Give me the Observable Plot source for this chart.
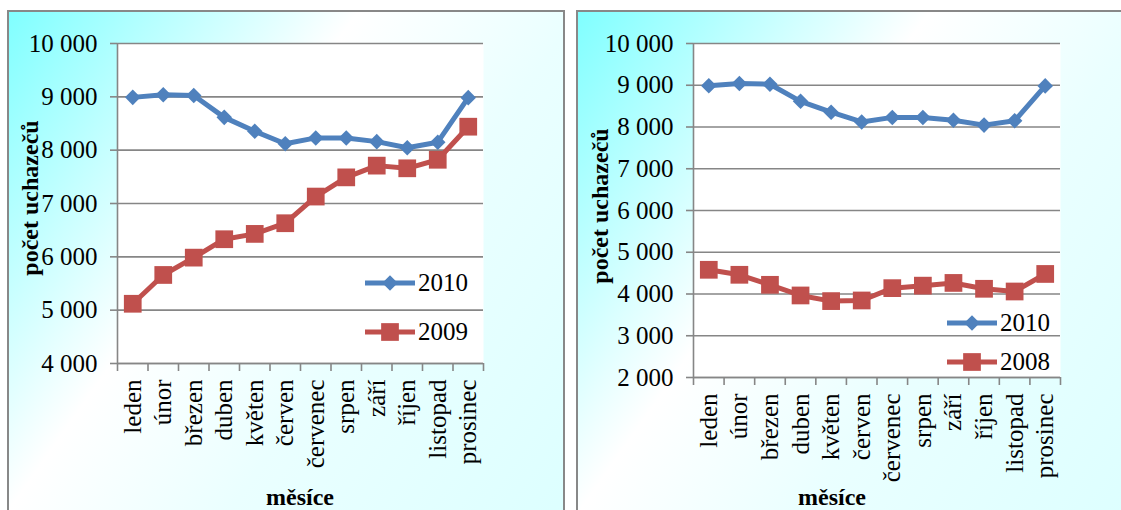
<!DOCTYPE html>
<html><head><meta charset="utf-8">
<script src="https://cdn.jsdelivr.net/npm/d3@7"></script>
<script src="https://cdn.jsdelivr.net/npm/@observablehq/plot@0.6"></script>
<style>
body{margin:0;width:1121px;height:510px;overflow:hidden;background:#fff;position:relative;font-family:'Liberation Serif';}
.panel{position:absolute;border:2px solid #888;background:linear-gradient(125deg,#80ffff 0%,#ffffff 38%,#eaffff 62%,#dcffff 100%);overflow:hidden}
.panel svg{position:absolute;left:0;top:0}
#overlay{position:absolute;left:0;top:0;pointer-events:none}
#overlay text, .panel svg text{font-family:'Liberation Serif'}
.t{position:absolute;font-family:'Liberation Serif';white-space:nowrap;color:#000}
.ttl{font-weight:bold;font-size:24px;line-height:30px;width:300px;text-align:center}
.leg{font-size:25px;line-height:30px}
</style></head><body>
<pre id="probe" style="position:absolute;left:0;top:0;margin:0;font-family:'DejaVu Sans Mono';font-size:13px">&#8203;</pre>
<div id="p1" class="panel" style="left:7px;top:10px;width:554px;height:520px"></div>
<div id="p2" class="panel" style="left:576px;top:10px;width:560px;height:520px"></div>
<svg id="overlay" width="1121" height="510"></svg>
<script>
const months = ["leden","únor","březen","duben","květen","červen","červenec","srpen","září","říjen","listopad","prosinec"];
const values2010 = [8990,9040,9025,8615,8355,8120,8230,8230,8160,8045,8150,8985];
const values2009 = [5120,5660,5985,6330,6430,6630,7130,7490,7710,7660,7820,8440];
const values2008 = [4580,4460,4220,3965,3830,3845,4140,4200,4265,4125,4060,4480];
const yTicksLeft = [4000,5000,6000,7000,8000,9000,10000];
const yTicksRight = [2000,3000,4000,5000,6000,7000,8000,9000,10000];
const yTitle = "počet uchazečů";
const xTitle = "měsíce";

const FONT = "Liberation Serif";
const GRAY = "#868686";
const BLUE = "#4F81BD";
const RED = "#C0504D";
const fmt = d => d3.format(",")(d).replace(/,/g, "\u00a0");

function chart(series, yTicks, opts) {
  const rows = series.flatMap(s => s.values.map((v, i) => ({pos: i + 0.5, v, name: s.name})));
  const boundaries = d3.range(13);
  const centers = d3.range(12).map(i => i + 0.5);
  const marks = [
    Plot.frame({fill: "white", stroke: "none"}),
    Plot.gridY(yTicks, {stroke: GRAY, strokeOpacity: 1, strokeWidth: 1.6}),
    Plot.axisY(yTicks, {tickSize: 7, tickPadding: 13, stroke: GRAY, strokeWidth: 1.6, tickFormat: fmt, label: null}),
    Plot.axisX(boundaries, {tickSize: 8, tickPadding: 0, stroke: GRAY, strokeWidth: 1.6, tickFormat: () => "", label: null}),
    Plot.axisX(centers, {tickSize: 0, tickPadding: 16, tickRotate: -90, tickFormat: d => months[Math.floor(d)], label: null}),
    Plot.ruleX([0], {stroke: GRAY, strokeWidth: 1.6}),
    Plot.ruleY([yTicks[0]], {stroke: GRAY, strokeWidth: 1.6})
  ];
  for (const s of series) {
    const data = rows.filter(d => d.name === s.name);
    marks.push(Plot.line(data, {x: "pos", y: "v", stroke: s.color, strokeWidth: 5, strokeLinejoin: "round"}));
    marks.push(Plot.dot(data, {x: "pos", y: "v", symbol: s.symbol, r: s.r, fill: s.color, stroke: "none"}));
  }
  return Plot.plot({
    ...opts,
    style: {fontFamily: FONT, fontSize: "25px", color: "black", background: "transparent", overflow: "visible"},
    x: {domain: [0, 12], axis: null},
    y: {domain: [yTicks[0], yTicks[yTicks.length - 1]], axis: null},
    marks
  });
}

const s2010 = {name: "2010", values: values2010, color: BLUE, symbol: "diamond2", r: 7};
const s2009 = {name: "2009", values: values2009, color: RED, symbol: "square", r: 10};
const s2008 = {name: "2008", values: values2008, color: RED, symbol: "square", r: 10};

const c1 = chart([s2010, s2009], yTicksLeft,
  {width: 554, height: 498, marginLeft: 108, marginRight: 80, marginTop: 31, marginBottom: 147});
const c2 = chart([s2010, s2008], yTicksRight,
  {width: 543, height: 498, marginLeft: 115, marginRight: 61, marginTop: 31, marginBottom: 133});
document.getElementById("p1").appendChild(c1);
document.getElementById("p2").appendChild(c2);

function title(cx, cy, rot, txt) {
  const d = document.createElement("div");
  d.className = "t ttl";
  d.textContent = txt;
  d.style.left = (cx - 150) + "px";
  d.style.top = (cy - 15) + "px";
  if (rot) d.style.transform = `rotate(${rot}deg)`;
  document.body.appendChild(d);
}
title(30, 198, -90, yTitle);
title(600, 206, -90, yTitle);
title(300, 497, 0, xTitle);
title(832, 497, 0, xTitle);

const ov = d3.select("#overlay");
function legend(x, entries) {
  for (const [y, s] of entries) {
    const g = ov.append("g");
    g.append("line").attr("x1", x).attr("x2", x + 50).attr("y1", y).attr("y2", y)
      .attr("stroke", s.color).attr("stroke-width", 5);
    const sym = s.symbol === "square" ? d3.symbolSquare : d3.symbolDiamond2;
    g.append("path").attr("transform", `translate(${x + 25},${y})`)
      .attr("d", d3.symbol(sym, Math.PI * s.r * s.r)()).attr("fill", s.color);
    const d = document.createElement("div");
    d.className = "t leg";
    d.textContent = s.name;
    d.style.left = (x + 53) + "px";
    d.style.top = (y - 15) + "px";
    document.body.appendChild(d);
  }
}
legend(365, [[283, s2010], [332, s2009]]);
legend(947, [[323, s2010], [362, s2008]]);

// force style resolution
const tt = c1.querySelector("text");
if (tt) getComputedStyle(tt).fontFamily;
getComputedStyle(document.body).fontFamily;
</script>
</body></html>
